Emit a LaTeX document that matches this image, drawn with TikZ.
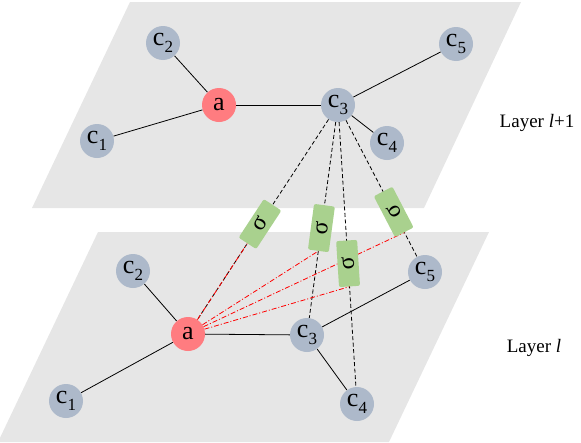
\documentclass[tikz,border=0pt]{standalone}
\usepackage{fontspec}
\setmainfont{Liberation Serif}
\pgfdeclarelayer{planes}
\pgfdeclarelayer{lines}
\pgfsetlayers{planes,lines,main}
\definecolor{planegray}{HTML}{E6E6E6}
\definecolor{nodeblue}{HTML}{ADB9CA}
\definecolor{nodered}{HTML}{FF7C80}
\definecolor{boxgreen}{HTML}{A9D18E}
\newcommand{\csub}[1]{c\raisebox{-0.26em}{\fontsize{17}{17}\selectfont #1}}
\tikzset{
  cnode/.style={circle, fill=nodeblue, minimum size=34pt, inner sep=0pt, font=\fontsize{26}{28}\selectfont},
  anode/.style={cnode, fill=nodered},
  edge/.style={line width=0.8pt, black},
  dline/.style={line width=0.8pt, black, dash pattern=on 4pt off 2.5pt},
  rline/.style={line width=0.8pt, red, dash pattern=on 5pt off 2pt on 1pt off 2pt},
  sigbox/.style={rectangle, rounded corners=2pt, fill=boxgreen, minimum width=46pt, minimum height=21pt, inner sep=0pt, font=\fontsize{24}{24}\selectfont, sloped, allow upside down},
  layerlabel/.style={font=\fontsize{19}{21}\selectfont, anchor=center}
}
\begin{document}
\begin{tikzpicture}[x=1pt,y=-1pt]
\useasboundingbox (0,0) rectangle (581,442);
% planes
\begin{pgfonlayer}{planes}
\fill[planegray] (130,2) -- (521,2) -- (424,208) -- (32,208) -- cycle;
\fill[planegray] (98,232) -- (489,232) -- (389,442) -- (-2,442) -- cycle;
\end{pgfonlayer}
% top layer nodes
\node[cnode] (c2t) at (163,43) {\csub{2}};
\node[anode] (at) at (219,105) {a};
\node[cnode] (c3t) at (338,105) {\csub{3}};
\node[cnode] (c5t) at (456,44) {\csub{5}};
\node[cnode] (c1t) at (97,141) {\csub{1}};
\node[cnode] (c4t) at (387,143) {\csub{4}};
% bottom layer nodes
\node[cnode] (c2b) at (133,271) {\csub{2}};
\node[anode] (ab) at (188,334) {a};
\node[cnode] (c3b) at (307,335) {\csub{3}};
\node[cnode] (c5b) at (425,272) {\csub{5}};
\node[cnode] (c1b) at (66,401) {\csub{1}};
\node[cnode] (c4b) at (357,404) {\csub{4}};
% sigma boxes
\path (ab.center) -- node[sigbox, pos=0.48] (b1) {σ} (c3t.center);
\path (c3b.center) -- node[sigbox, pos=0.465] (b2) {σ} (c3t.center);
\path (c4b.center) -- node[sigbox, pos=0.47] (b3) {σ} (c3t.center);
\path (c5b.center) -- node[sigbox, pos=0.36] (b4) {σ} (c3t.center);
% labels
\node[layerlabel] (l1) at (537,123) {Layer \textit{l}+1};
\node[layerlabel] (l0) at (534,348) {Layer \textit{l}};
\begin{pgfonlayer}{lines}
\draw[edge] (at) -- (c2t);
\draw[edge] (at) -- (c1t);
\draw[edge] (at) -- (c3t);
\draw[edge] (c3t) -- (c5t);
\draw[edge] (c3t) -- (c4t);
\draw[edge] (ab) -- (c2b);
\draw[edge] (ab) -- (c1b);
\draw[edge] (ab) -- (c3b);
\draw[edge] (c3b) -- (c5b);
\draw[edge] (c3b) -- (c4b);
\draw[dline] (c3t) -- (ab);
\draw[dline] (c3t) -- (c3b);
\draw[dline] (c3t) -- (c4b);
\draw[dline] (c3t) -- (c5b);
\draw[rline] (ab) -- (b1.west);
\draw[rline] (ab) -- (b2.west);
\draw[rline] (ab) -- (b3.west);
\draw[rline] (ab) -- (b4.west);
\end{pgfonlayer}
\end{tikzpicture}
\end{document}
